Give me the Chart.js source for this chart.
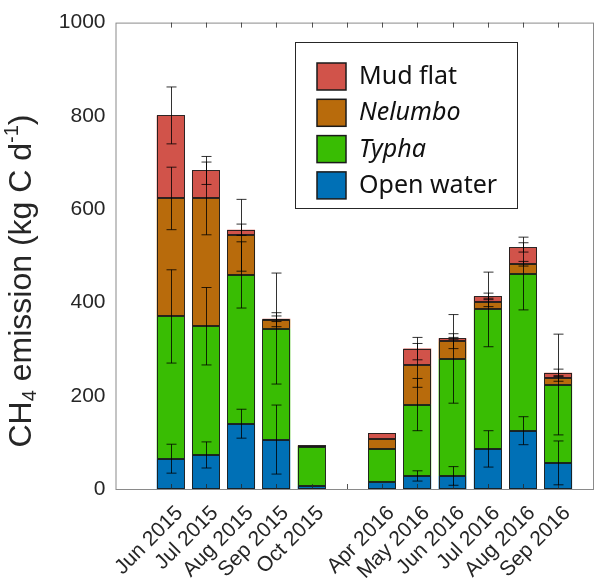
<!DOCTYPE html>
<html>
<head>
<meta charset="utf-8">
<script src="https://cdn.jsdelivr.net/npm/chart.js@4.4.1/dist/chart.umd.min.js"></script>
<style>
  html, body { margin: 0; padding: 0; background: #fff; }
  #wrap { width: 595px; height: 583px; }
</style>
</head>
<body>
<div id="wrap"><canvas id="chart"></canvas></div>
<script>
// months on the x axis, '' is the winter gap
var months = ['Jun 2015', 'Jul 2015', 'Aug 2015', 'Sep 2015', 'Oct 2015', '',
              'Apr 2016', 'May 2016', 'Jun 2016', 'Jul 2016', 'Aug 2016', 'Sep 2016']

// segment heights in kg C d-1, stacked bottom to top
var openWater = [65, 73, 140, 106, 7, null, 14, 28, 28, 86, 125, 56]
var typha     = [305, 276, 319, 238, 83, null, 72, 153, 251, 299, 337, 168]
var nelumbo   = [253, 274, 85, 19, 2, null, 21, 84, 38, 15, 21, 13]
var mudFlat   = [178, 60, 12, 2, 1, null, 13, 36, 6, 13, 35, 12]

// error bar half-lengths, drawn at the top of each segment
var openWaterErr = [31, 28, 31, 74, 0, null, 0, 11, 20, 39, 30, 47]
var typhaErr     = [100, 83, 71, 119, 0, null, 0, 56, 95, 80, 78, 108]
var nelumboErr   = [67, 78, 77, 15, 0, null, 0, 47, 16, 9, 5, 6]
var mudFlatErr   = [61, 30, 12, 6, 0, null, 0, 24, 2, 7, 10, 8]

var yTicks = [0, 200, 400, 600, 800, 1000]
var italicLabels = ['Nelumbo', 'Typha']

// y title pieces: [text, 'sub' | 'sup' | '']
var yTitle = [['CH', ''], ['4', 'sub'], [' emission (kg C d', ''], ['-1', 'sup'], [')', '']]

var FONT = "'Liberation Sans', Arial, sans-serif"
var TEXT = '#262626'

function points(values) {
  return values.map(function (v, i) { return { x: i + 1, y: v } })
}

function series(label, values, errors, color) {
  return {
    label: label,
    data: points(values),
    errors: errors,
    backgroundColor: color,
    borderWidth: 0,
    inflateAmount: 0,
    barPercentage: 0.79,
    categoryPercentage: 1
  }
}

// dark outline on every stacked segment
var outlinePlugin = {
  id: 'outlines',
  afterDatasetsDraw: function (chart) {
    var ctx = chart.ctx
    ctx.save()
    ctx.strokeStyle = 'rgba(25, 25, 25, 0.9)'
    ctx.lineWidth = 1
    chart.data.datasets.forEach(function (ds, d) {
      chart.getDatasetMeta(d).data.forEach(function (bar, i) {
        if (ds.data[i].y == null) return
        var x0 = Math.round(bar.x - bar.width / 2) + 0.5
        var x1 = Math.round(bar.x + bar.width / 2) - 0.5
        var y0 = Math.round(bar.y) + 0.5
        var y1 = Math.round(bar.base) - 0.5
        ctx.strokeRect(x0, y0, x1 - x0, y1 - y0)
      })
    })
    ctx.restore()
  }
}

// axes box with inward ticks, like the original figure
var framePlugin = {
  id: 'frame',
  afterDatasetsDraw: function (chart) {
    var a = chart.chartArea, ctx = chart.ctx, xs = chart.scales.x
    ctx.save()
    ctx.strokeStyle = '#8a8a8a'
    ctx.lineWidth = 1
    ctx.strokeRect(a.left + 0.5, a.top + 0.5, a.right - a.left - 1, a.bottom - a.top)
    ctx.strokeStyle = 'rgba(40, 40, 40, 0.8)'
    ctx.beginPath()
    xs.ticks.forEach(function (t) {
      var px = Math.round(xs.getPixelForValue(t.value)) + 0.5
      ctx.moveTo(px, a.bottom); ctx.lineTo(px, a.bottom - 5)
      ctx.moveTo(px, a.top); ctx.lineTo(px, a.top + 5)
    })
    ctx.stroke()
    ctx.restore()
  }
}

var errorBarPlugin = {
  id: 'errorBars',
  afterDatasetsDraw: function (chart) {
    var ctx = chart.ctx, ys = chart.scales.y
    ctx.save()
    ctx.strokeStyle = 'rgba(0, 0, 0, 0.8)'
    ctx.lineWidth = 1
    chart.data.datasets.forEach(function (ds, d) {
      var meta = chart.getDatasetMeta(d)
      ds.data.forEach(function (p, i) {
        var err = ds.errors[i]
        if (p.y == null || !err) return
        var top = 0
        for (var k = 0; k <= d; k++) top += chart.data.datasets[k].data[i].y
        var x = Math.round(meta.data[i].x) + 0.5
        var y1 = ys.getPixelForValue(top + err)
        var y2 = ys.getPixelForValue(top - err)
        ctx.beginPath()
        ctx.moveTo(x, y1); ctx.lineTo(x, y2)
        ctx.moveTo(x - 5, y1); ctx.lineTo(x + 5, y1)
        ctx.moveTo(x - 5, y2); ctx.lineTo(x + 5, y2)
        ctx.stroke()
      })
    })
    ctx.restore()
  }
}

// 45 degree month labels hung from the x scale ticks
var xLabelPlugin = {
  id: 'xLabels',
  afterDraw: function (chart) {
    var ctx = chart.ctx, xs = chart.scales.x, a = chart.chartArea
    ctx.save()
    ctx.font = '21px ' + FONT
    ctx.fillStyle = TEXT
    ctx.textAlign = 'right'
    ctx.textBaseline = 'middle'
    months.forEach(function (m, i) {
      if (!m) return
      ctx.save()
      ctx.translate(xs.getPixelForValue(i + 1) + 9, a.bottom + 21)
      ctx.rotate(-Math.PI / 4)
      ctx.fillText(m, 0, 0)
      ctx.restore()
    })
    ctx.restore()
  }
}

// rotated y title with real subscript / superscript
var yTitlePlugin = {
  id: 'yTitle',
  afterDraw: function (chart) {
    var ctx = chart.ctx, size = 32, small = 20
    ctx.save()
    ctx.translate(22, 281)
    ctx.rotate(-Math.PI / 2)
    ctx.fillStyle = TEXT
    ctx.textBaseline = 'middle'
    var total = 0
    yTitle.forEach(function (p) {
      ctx.font = (p[1] ? small : size) + 'px ' + FONT
      total += ctx.measureText(p[0]).width
    })
    var x = -total / 2
    yTitle.forEach(function (p) {
      ctx.font = (p[1] ? small : size) + 'px ' + FONT
      var dy = p[1] === 'sub' ? 8 : p[1] === 'sup' ? -10 : 0
      ctx.fillText(p[0], x, dy)
      x += ctx.measureText(p[0]).width
    })
    ctx.restore()
  }
}

var boxLegendPlugin = {
  id: 'boxLegend',
  afterDraw: function (chart) {
    var ctx = chart.ctx
    var items = chart.data.datasets.slice().reverse()
    var left = 295, top = 42, width = 222, height = 166
    ctx.save()
    ctx.fillStyle = '#fff'
    ctx.fillRect(left, top, width, height)
    ctx.strokeStyle = '#262626'
    ctx.lineWidth = 1
    ctx.strokeRect(left + 0.5, top + 0.5, width, height)
    items.forEach(function (ds, i) {
      var sy = 63 + i * 36.3
      ctx.fillStyle = ds.backgroundColor
      ctx.fillRect(317, sy, 29, 27)
      ctx.strokeStyle = '#1a1a1a'
      ctx.lineWidth = 1.5
      ctx.strokeRect(317, sy, 29, 27)
      var italic = italicLabels.indexOf(ds.label) >= 0
      ctx.font = (italic ? 'italic ' : '') + "25px 'Noto Sans', 'Open Sans', sans-serif"
      ctx.fillStyle = '#111'
      ctx.textBaseline = 'middle'
      ctx.fillText(ds.label, 359, sy + 14)
    })
    ctx.restore()
  }
}

new Chart(document.getElementById('chart'), {
  type: 'bar',
  data: {
    datasets: [
      series('Open water', openWater, openWaterErr, '#0070B6'),
      series('Typha', typha, typhaErr, '#39BD03'),
      series('Nelumbo', nelumbo, nelumboErr, '#B86B0C'),
      series('Mud flat', mudFlat, mudFlatErr, '#D1534A')
    ]
  },
  options: {
    responsive: true,
    maintainAspectRatio: false,
    animation: false,
    layout: { padding: { top: 18, right: 1, left: 0, bottom: 0 } },
    plugins: {
      legend: { display: false },
      tooltip: { enabled: false }
    },
    scales: {
      x: {
        type: 'linear',
        stacked: true,
        min: 0,
        max: 12.45,
        afterBuildTicks: function (scale) {
          scale.ticks = months.map(function (m, i) { return { value: i + 1 } })
        },
        afterFit: function (scale) { scale.height = 94 },
        grid: { display: false, drawTicks: false },
        border: { display: false },
        ticks: { display: false }
      },
      y: {
        stacked: true,
        min: 0,
        max: 1000,
        afterBuildTicks: function (scale) {
          scale.ticks = yTicks.map(function (v) { return { value: v } })
        },
        afterFit: function (scale) { scale.width = 115.5 },
        grid: { display: false, drawTicks: false },
        border: { display: false },
        ticks: {
          padding: 10,
          color: TEXT,
          font: { family: FONT, size: 21 },
          callback: function (v) { return String(v) }
        }
      }
    }
  },
  plugins: [outlinePlugin, framePlugin, errorBarPlugin, xLabelPlugin, yTitlePlugin, boxLegendPlugin]
})
</script>
</body>
</html>
